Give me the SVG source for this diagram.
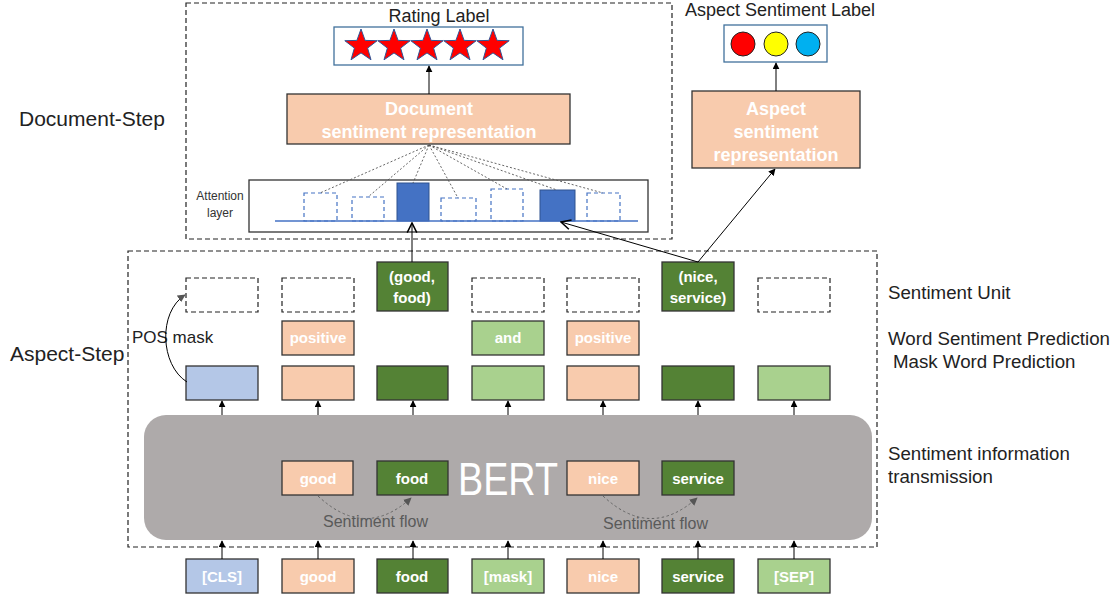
<svg xmlns="http://www.w3.org/2000/svg" width="1117" height="596" viewBox="0 0 1117 596">
<defs>
<style>
text{font-family:"Liberation Sans",Arial,sans-serif}
.lbl{font-size:18.7px;fill:#222}
.top{font-size:18px;fill:#222}
.big{font-size:21px;fill:#222}
.w{fill:#fff;font-weight:bold;text-anchor:middle;font-size:15px}
.wr{fill:#fff;font-weight:bold;text-anchor:middle;font-size:18px}
.dash{fill:none;stroke:#222;stroke-width:1.2;stroke-dasharray:5,3}
.box{stroke:#333;stroke-width:1.3}
.pe{fill:#F8CBAD}
.dg{fill:#548235}
.lg{fill:#A9D18E}
.bl{fill:#B4C7E7}
.bar{fill:#fff;stroke:#4472C4;stroke-width:1.2;stroke-dasharray:4,3}
.barf{fill:#4472C4;stroke:#2F528F;stroke-width:1}
.ln{stroke:#000;stroke-width:1;fill:none}
.dot{stroke:#555;stroke-width:0.9;stroke-dasharray:2,2;fill:none}
.flow{stroke:#666;stroke-width:1;stroke-dasharray:2.5,2.5;fill:none}
.fl{font-size:16px;fill:#5a5a5a}
</style>
<marker id="ah" viewBox="0 0 10 10" refX="9" refY="5" markerWidth="7" markerHeight="7" markerUnits="userSpaceOnUse" orient="auto"><path d="M0,0 L10,5 L0,10 z" fill="#000"/></marker>
<marker id="ahg" viewBox="0 0 10 10" refX="9" refY="5" markerWidth="8" markerHeight="8" markerUnits="userSpaceOnUse" orient="auto"><path d="M0,0 L10,5 L0,10 z" fill="#555"/></marker>
<marker id="av" viewBox="0 0 10 10" refX="9" refY="5" markerWidth="12" markerHeight="12" markerUnits="userSpaceOnUse" orient="auto"><path d="M1,1 L9,5 L1,9" fill="none" stroke="#000" stroke-width="1.3"/></marker>
<path id="star" d="M0,-17 L4.1,-5.6 L16.2,-5.3 L6.6,2.1 L10,13.8 L0,6.9 L-10,13.8 L-6.6,2.1 L-16.2,-5.3 L-4.1,-5.6 Z" fill="#FF0000" stroke="#2F5597" stroke-width="1"/>
</defs>

<!-- side labels -->
<g id="labels">
<text class="big" x="19" y="126">Document-Step</text>
<text class="big" x="10" y="361">Aspect-Step</text>
<text class="lbl" x="888" y="299">Sentiment Unit</text>
<text class="lbl" x="888" y="345">Word Sentiment Prediction</text>
<text class="lbl" x="893" y="368">Mask Word Prediction</text>
<text class="lbl" x="888" y="460">Sentiment information</text>
<text class="lbl" x="888" y="483">transmission</text>
</g>

<!-- document step -->
<g id="document-step">
<rect class="dash" x="186" y="3" width="486" height="236"/>
</g>
<g id="rating-label">
<text class="top" x="439" y="22" text-anchor="middle">Rating Label</text>
<rect x="334" y="27" width="189" height="38" fill="#fff" stroke="#41719C" stroke-width="1.3"/>
<use href="#star" x="361" y="46"/>
<use href="#star" x="394" y="46"/>
<use href="#star" x="427" y="46"/>
<use href="#star" x="460" y="46"/>
<use href="#star" x="493" y="46"/>
</g>
<g id="doc-rep">
<rect class="box pe" x="287" y="94" width="283" height="50"/>
<text class="wr" x="429" y="115">Document</text>
<text class="wr" x="429" y="138">sentiment representation</text>
</g>
<g id="attention">
<rect x="249" y="180" width="399" height="52" fill="#fff" stroke="#333" stroke-width="1.3"/>
<text x="220" y="200" font-size="12" fill="#333" text-anchor="middle">Attention</text>
<text x="220" y="217" font-size="12" fill="#333" text-anchor="middle">layer</text>
<rect class="bar" x="304" y="193" width="33" height="28"/>
<rect class="bar" x="352" y="197" width="32" height="24"/>
<rect class="barf" x="397" y="183" width="32" height="38"/>
<rect class="bar" x="441" y="198" width="35" height="23"/>
<rect class="bar" x="491" y="189" width="32" height="32"/>
<rect class="barf" x="540" y="190" width="35" height="31"/>
<rect class="bar" x="587" y="193" width="33" height="28"/>
<line x1="275" y1="221" x2="638" y2="221" stroke="#4472C4" stroke-width="1.5"/>
</g>

<g id="aspect-label">
<text class="top" x="780" y="16" text-anchor="middle">Aspect Sentiment Label</text>
<rect x="724" y="25" width="103" height="37" fill="#fff" stroke="#41719C" stroke-width="1.3"/>
<circle cx="743" cy="44" r="12" fill="#FF0000" stroke="#222" stroke-width="1"/>
<circle cx="776" cy="44" r="12" fill="#FFFF00" stroke="#222" stroke-width="1"/>
<circle cx="808" cy="44" r="12" fill="#00B0F0" stroke="#222" stroke-width="1"/>
</g>
<g id="aspect-rep">
<rect class="box pe" x="692" y="91" width="168" height="77"/>
<text class="wr" x="776" y="115">Aspect</text>
<text class="wr" x="776" y="138">sentiment</text>
<text class="wr" x="776" y="161">representation</text>
</g>

<!-- aspect step -->
<g id="aspect-step">
<rect class="dash" x="128" y="251" width="749" height="296"/>
</g>
<g id="sentiment-units">
<rect class="dash" x="186" y="278" width="72" height="34"/>
<rect class="dash" x="282" y="278" width="72" height="34"/>
<rect class="dash" x="472" y="278" width="72" height="34"/>
<rect class="dash" x="567" y="278" width="72" height="34"/>
<rect class="dash" x="758" y="278" width="72" height="34"/>
</g>
<g id="unit-good-food">
<rect class="box dg" x="377" y="262" width="71" height="49"/>
<text class="w" x="412" y="282" font-size="16">(good,</text>
<text class="w" x="412" y="303" font-size="16">food)</text>
</g>
<g id="unit-nice-service">
<rect class="box dg" x="662" y="262" width="72" height="49"/>
<text class="w" x="698" y="282" font-size="16">(nice,</text>
<text class="w" x="698" y="303" font-size="16">service)</text>
</g>
<g id="word-pred">
<rect class="box pe" x="282" y="321" width="72" height="34"/>
<text class="w" x="318" y="343" font-size="13">positive</text>
<rect class="box lg" x="472" y="321" width="72" height="34"/>
<text class="w" x="508" y="343" font-size="14">and</text>
<rect class="box pe" x="567" y="321" width="72" height="34"/>
<text class="w" x="603" y="343" font-size="13">positive</text>
</g>
<g id="outputs">
<rect class="box bl" x="186" y="366" width="72" height="34"/>
<rect class="box pe" x="282" y="366" width="72" height="34"/>
<rect class="box dg" x="377" y="366" width="71" height="34"/>
<rect class="box lg" x="472" y="366" width="72" height="34"/>
<rect class="box pe" x="567" y="366" width="72" height="34"/>
<rect class="box dg" x="662" y="366" width="72" height="34"/>
<rect class="box lg" x="758" y="366" width="72" height="34"/>
</g>
<text x="132" y="343" font-size="17" fill="#222">POS mask</text>

<g id="bert">
<rect x="144" y="415" width="728" height="125" rx="22" ry="22" fill="#AEAAAA"/>
<text x="508" y="495" font-size="46" font-weight="300" fill="#fff" text-anchor="middle" font-family="Lato, 'Open Sans', 'Liberation Sans', sans-serif" textLength="100" lengthAdjust="spacingAndGlyphs">BERT</text>
<rect class="box pe" x="282" y="461" width="71" height="34"/>
<text class="w" x="318" y="484">good</text>
<rect class="box dg" x="377" y="461" width="71" height="34"/>
<text class="w" x="412" y="484">food</text>
<rect class="box pe" x="567" y="461" width="72" height="34"/>
<text class="w" x="603" y="484">nice</text>
<rect class="box dg" x="662" y="461" width="72" height="34"/>
<text class="w" x="698" y="484">service</text>
<text class="fl" x="323" y="527">Sentiment flow</text>
<text class="fl" x="603" y="529">Sentiment flow</text>
</g>

<g id="inputs">
<rect class="box bl" x="186" y="559" width="72" height="34"/>
<text class="w" x="222" y="582">[CLS]</text>
<rect class="box pe" x="282" y="559" width="72" height="34"/>
<text class="w" x="318" y="582">good</text>
<rect class="box dg" x="377" y="559" width="71" height="34"/>
<text class="w" x="412" y="582">food</text>
<rect class="box lg" x="472" y="559" width="72" height="34"/>
<text class="w" x="508" y="582">[mask]</text>
<rect class="box pe" x="567" y="559" width="72" height="34"/>
<text class="w" x="603" y="582">nice</text>
<rect class="box dg" x="662" y="559" width="72" height="34"/>
<text class="w" x="698" y="582">service</text>
<rect class="box lg" x="758" y="559" width="72" height="34"/>
<text class="w" x="794" y="582">[SEP]</text>
</g>

<g id="connectors">
<line class="ln" x1="429" y1="94" x2="429" y2="66" stroke="#555" marker-end="url(#ah)"/>
<line class="ln" x1="776" y1="91" x2="776" y2="63" stroke="#555" marker-end="url(#ah)"/>
<g class="dot">
<line x1="429" y1="145" x2="320" y2="193"/>
<line x1="429" y1="145" x2="368" y2="197"/>
<line x1="429" y1="145" x2="413" y2="183"/>
<line x1="429" y1="145" x2="458" y2="198"/>
<line x1="429" y1="145" x2="507" y2="189"/>
<line x1="429" y1="145" x2="557" y2="190"/>
<line x1="429" y1="145" x2="603" y2="193"/>
</g>
<line class="ln" x1="412" y1="262" x2="412" y2="223" stroke-width="1.3" marker-end="url(#av)"/>
<line class="ln" x1="698" y1="262" x2="561" y2="222" stroke-width="1.3" marker-end="url(#av)"/>
<line class="ln" x1="698" y1="262" x2="775" y2="169" stroke="#666" marker-end="url(#ah)"/>
<path class="ln" d="M187,382 C160,365 158,312 185,295" stroke="#555" marker-end="url(#ahg)"/>
<g>
<line class="ln" x1="222" y1="415" x2="222" y2="401" marker-end="url(#ah)"/>
<line class="ln" x1="318" y1="415" x2="318" y2="401" marker-end="url(#ah)"/>
<line class="ln" x1="413" y1="415" x2="413" y2="401" marker-end="url(#ah)"/>
<line class="ln" x1="508" y1="415" x2="508" y2="401" marker-end="url(#ah)"/>
<line class="ln" x1="603" y1="415" x2="603" y2="401" marker-end="url(#ah)"/>
<line class="ln" x1="698" y1="415" x2="698" y2="401" marker-end="url(#ah)"/>
<line class="ln" x1="794" y1="415" x2="794" y2="401" marker-end="url(#ah)"/>
</g>
<g>
<line class="ln" x1="222" y1="559" x2="222" y2="541" marker-end="url(#ah)"/>
<line class="ln" x1="318" y1="559" x2="318" y2="541" marker-end="url(#ah)"/>
<line class="ln" x1="413" y1="559" x2="413" y2="541" marker-end="url(#ah)"/>
<line class="ln" x1="508" y1="559" x2="508" y2="541" marker-end="url(#ah)"/>
<line class="ln" x1="603" y1="559" x2="603" y2="541" marker-end="url(#ah)"/>
<line class="ln" x1="698" y1="559" x2="698" y2="541" marker-end="url(#ah)"/>
<line class="ln" x1="794" y1="559" x2="794" y2="541" marker-end="url(#ah)"/>
</g>
<path class="flow" d="M318,496 Q365,540 411,498" marker-end="url(#ahg)"/>
<path class="flow" d="M603,496 Q650,540 697,498" marker-end="url(#ahg)"/>
</g>
</svg>
